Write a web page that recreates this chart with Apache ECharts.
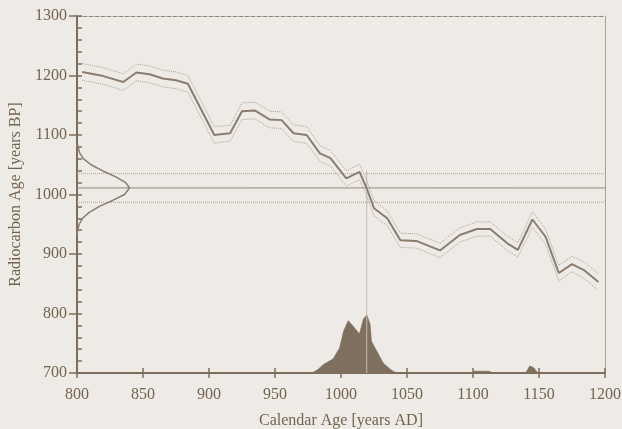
<!DOCTYPE html>
<html><head><meta charset="utf-8">
<script src="https://cdn.jsdelivr.net/npm/echarts@6/dist/echarts.min.js"></script>
<style>html,body{margin:0;padding:0;background:#eeebe7;}#c{width:622px;height:429px;}</style>
</head><body><div id="c"></div>
<script>
// Calibration curve (calendar year AD, radiocarbon age BP, 1-sigma)
const calYears = [804,820,835,845,855,865,875,884,904,916,925,935,946,955,964,974,984,992,1004,1014,1019,1025,1035,1045,1057,1075,1090,1103,1113,1126,1134,1145,1155,1165,1175,1184,1195];
const calBP    = [1206,1199,1189,1205,1202,1195,1192,1186,1100,1103,1140,1141,1126,1125,1103,1100,1069,1061,1027,1038,1013,977,960,923,922,906,932,942,942,918,907,958,929,868,883,873,853];
const calSigma = [14,14,14,14,14,14,14,14,14,13,14,14,14,14,14,14,13,13,13,13,13,13,12,12,12,12,12,12,12,12,12,13,13,13,13,14,14];

// Measured date: mean and 1-sigma lines (BP)
const hLines = [1035, 1011, 987];
const vLineYear = 1019.5;

// Measurement gaussian drawn along the y axis (BP, width in years from 800)
const gaussBP    = [1085,1070,1060,1050,1040,1030,1020,1011,1000,990,980,970,960,950,940,930];
const gaussWidth = [0.3,2,5,10.6,19.2,29,37,39.8,36,27,17,9.3,4.2,1.6,0.5,0];

// Calibrated probability distribution (relative)
const probYears = [800,978,982,987,994,999,1002,1005.5,1009,1014,1017,1019.5,1022,1023,1027,1032,1037,1040,1043,1099,1101,1112,1115,1140,1143,1146,1149,1200];
const probVals  = [0,0,0.05,0.15,0.24,0.43,0.72,0.9,0.81,0.67,0.93,1.0,0.84,0.55,0.38,0.17,0.07,0.02,0,0,0.03,0.03,0,0,0.12,0.09,0,0];

const xTicks = [800,850,900,950,1000,1050,1100,1150,1200];
const yTicks = [700,800,900,1000,1100,1200,1300];

const txt = '#74634f', axisC = '#7d6d5c', lineC = '#8a7c6e', dotC = '#aca297', fillC = '#7f6f5e';
const font = 'Liberation Serif';

const chart = echarts.init(document.getElementById('c'), null, {renderer:'canvas'});
const zip = (a,b)=>a.map((v,i)=>[v,b[i]]);
chart.setOption({
  backgroundColor:'#eeebe7',
  animation:false,
  grid:{left:77,right:17,top:16,bottom:56,outerBoundsMode:'none',containLabel:false},
  xAxis:[
    {type:'value',min:xTicks[0],max:xTicks[xTicks.length-1],interval:50,position:'bottom',
     name:'Calendar Age [years AD]',nameLocation:'middle',nameGap:40,
     nameTextStyle:{color:txt,fontFamily:font,fontSize:16},
     axisLine:{show:true,lineStyle:{color:axisC,width:2}},
     axisTick:{show:true,inside:false,length:5,lineStyle:{color:axisC,width:1.5}},
     axisLabel:{color:txt,fontFamily:font,fontSize:16,margin:14,formatter:v=>String(v)},
     splitLine:{show:false}},
    {type:'value',min:800,max:1200,interval:50,position:'bottom',
     axisLine:{show:false},axisTick:{show:true,inside:true,length:5,lineStyle:{color:axisC,width:1.5}},
     axisLabel:{show:false},splitLine:{show:false}},
    {type:'value',min:800,max:1200,position:'top',
     axisLine:{show:true,lineStyle:{color:'#8f8275',width:1,type:'dashed'}},
     axisTick:{show:false},axisLabel:{show:false},splitLine:{show:false}}
  ],
  yAxis:[
    {type:'value',min:yTicks[0],max:yTicks[yTicks.length-1],interval:100,position:'left',
     name:'Radiocarbon Age [years BP]',nameLocation:'middle',nameGap:49,
     nameTextStyle:{color:txt,fontFamily:font,fontSize:16},
     axisLine:{show:true,lineStyle:{color:axisC,width:2}},
     axisTick:{show:true,inside:false,length:8,lineStyle:{color:axisC,width:1.5}},
     axisLabel:{color:txt,fontFamily:font,fontSize:16,margin:10,formatter:v=>String(v)},
     splitLine:{show:false}},
    {type:'value',min:700,max:1300,interval:100,position:'left',
     axisLine:{show:false},
     axisTick:{show:true,inside:true,length:5,lineStyle:{color:axisC,width:1.5}},
     minorTick:{show:true,splitNumber:5,length:5,lineStyle:{color:axisC,width:1.5}},
     axisLabel:{show:false},splitLine:{show:false}},
    {type:'value',min:700,max:1300,position:'right',
     axisLine:{show:true,lineStyle:{color:'#9a8e82',width:1,type:'dotted'}},
     axisTick:{show:false},axisLabel:{show:false},splitLine:{show:false}},
    {type:'value',min:0,max:6.16,show:false}
  ],
  series:[
    {type:'line',xAxisIndex:0,yAxisIndex:3,data:zip(probYears,probVals),symbol:'none',
     lineStyle:{width:0.8,color:fillC},areaStyle:{color:fillC,opacity:1},z:2},
    ...hLines.map((h,i)=>({type:'line',xAxisIndex:0,yAxisIndex:0,symbol:'none',
      data:[[800,h],[1200,h]],
      lineStyle:{color: i===1?'#948779':dotC,width:1,type: i===1?'solid':'dotted'},z:3})),
    {type:'line',xAxisIndex:0,yAxisIndex:0,symbol:'none',data:[[vLineYear,700],[vLineYear,1040]],
     lineStyle:{color:'#c4bcb2',width:1},z:4},
    {type:'line',xAxisIndex:0,yAxisIndex:0,symbol:'none',smooth:false,
     data:gaussBP.map((b,i)=>[800+gaussWidth[i],b]),
     lineStyle:{color:lineC,width:1.5},z:5},
    {type:'line',xAxisIndex:0,yAxisIndex:0,symbol:'none',
     data:calYears.map((x,i)=>[x,calBP[i]+calSigma[i]]),
     lineStyle:{color:dotC,width:1,type:'dotted'},z:5},
    {type:'line',xAxisIndex:0,yAxisIndex:0,symbol:'none',
     data:calYears.map((x,i)=>[x,calBP[i]-calSigma[i]]),
     lineStyle:{color:dotC,width:1,type:'dotted'},z:5},
    {type:'line',xAxisIndex:0,yAxisIndex:0,symbol:'none',data:zip(calYears,calBP),
     lineStyle:{color:lineC,width:2},z:6}
  ]
});
</script></body></html>
